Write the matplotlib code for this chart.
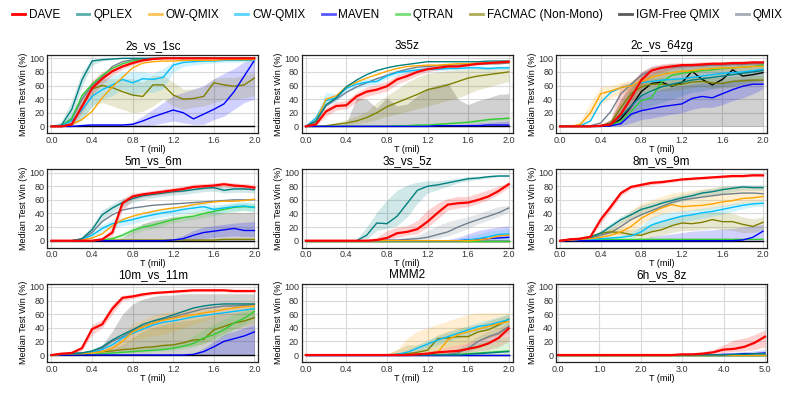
import matplotlib.pyplot as plt
from matplotlib.lines import Line2D

plt.rcParams['font.family'] = ['Liberation Sans', 'DejaVu Sans']

# x positions (million steps)
t2 = [0.0, 0.1, 0.2, 0.3, 0.4, 0.5, 0.6, 0.7, 0.8, 0.9, 1.0,
      1.1, 1.2, 1.3, 1.4, 1.5, 1.6, 1.7, 1.8, 1.9, 2.0]
t5 = [0.0, 0.25, 0.5, 0.75, 1.0, 1.25, 1.5, 1.75, 2.0, 2.25, 2.5,
      2.75, 3.0, 3.25, 3.5, 3.75, 4.0, 4.25, 4.5, 4.75, 5.0]

methods = ['DAVE', 'QPLEX', 'OW-QMIX', 'CW-QMIX', 'MAVEN', 'QTRAN',
           'FACMAC (Non-Mono)', 'IGM-Free QMIX', 'QMIX']
colors = {'DAVE': '#ff0000', 'QPLEX': '#008080', 'OW-QMIX': '#ffa500',
          'CW-QMIX': '#00bfff', 'MAVEN': '#0000ff', 'QTRAN': '#32cd32',
          'FACMAC (Non-Mono)': '#808000', 'IGM-Free QMIX': '#000000',
          'QMIX': '#708090'}
Z = [0] * 21

# ---- 2s_vs_1sc
p1_med = {
    'DAVE': [0, 0, 3, 29, 56, 70, 81, 88, 93, 97, 99, 100, 100, 100, 100, 100, 100, 100, 100, 100, 100],
    'QPLEX': [0, 2, 25, 68, 96, 98, 99, 100, 100, 100, 100, 100, 100, 100, 100, 100, 100, 100, 100, 100, 100],
    'OW-QMIX': [0, 0, 3, 10, 22, 42, 58, 72, 86, 93, 95, 96, 96, 97, 97, 97, 97, 98, 98, 98, 98],
    'CW-QMIX': [0, 1, 8, 24, 44, 54, 61, 69, 64, 70, 69, 72, 90, 94, 95, 96, 96, 97, 97, 97, 97],
    'MAVEN': [0, 0, 0, 1, 2, 2, 2, 2, 3, 8, 14, 19, 24, 20, 11, 18, 25, 33, 51, 74, 97],
    'QTRAN': [0, 1, 12, 45, 62, 75, 85, 92, 96, 98, 99, 100, 100, 100, 100, 100, 100, 100, 100, 100, 100],
    'FACMAC (Non-Mono)': [0, 0, 3, 30, 55, 60, 57, 51, 46, 44, 61, 61, 46, 40, 41, 44, 64, 61, 59, 61, 71],
    'IGM-Free QMIX': Z,
    'QMIX': [0, 1, 10, 40, 60, 72, 88, 95, 98, 99, 100, 100, 100, 100, 100, 100, 100, 100, 100, 100, 100],
}
p1_band = {
    'MAVEN': ([0, 0, 0, 0, 0, 0, 0, 0, 0, 0, 2, 5, 8, 5, 3, 3, 10, 15, 25, 35, 40],
              [0, 0, 2, 4, 4, 4, 4, 4, 6, 15, 25, 35, 45, 50, 55, 60, 70, 78, 85, 95, 98]),
    'FACMAC (Non-Mono)': ([0, 0, 0, 10, 30, 35, 30, 25, 20, 22, 30, 40, 30, 25, 28, 30, 35, 40, 40, 42, 45],
                          [0, 0, 10, 50, 65, 70, 70, 70, 70, 65, 75, 75, 65, 55, 55, 58, 70, 72, 72, 75, 80]),
    'CW-QMIX': ([0, 0, 2, 10, 30, 40, 45, 55, 45, 50, 50, 55, 80, 88, 90, 92, 93, 94, 94, 95, 95],
                [0, 3, 20, 45, 60, 70, 75, 80, 80, 80, 78, 85, 95, 97, 98, 98, 98, 99, 99, 99, 99]),
    'DAVE': ([0, 0, 1, 20, 45, 62, 75, 84, 90, 95, 98, 99, 100, 100, 100, 100, 100, 100, 100, 100, 100],
             [0, 1, 8, 40, 68, 80, 88, 94, 97, 99, 100, 100, 100, 100, 100, 100, 100, 100, 100, 100, 100]),
    'QPLEX': ([0, 0, 15, 58, 90, 96, 98, 99, 100, 100, 100, 100, 100, 100, 100, 100, 100, 100, 100, 100, 100],
              [0, 8, 38, 80, 99, 100, 100, 100, 100, 100, 100, 100, 100, 100, 100, 100, 100, 100, 100, 100, 100]),
}

# ---- 3s5z
p2_med = {
    'DAVE': [0, 3, 22, 30, 31, 44, 51, 54, 59, 69, 74, 80, 84, 86, 88, 88, 90, 92, 93, 94, 95],
    'QPLEX': [0, 8, 32, 42, 58, 68, 76, 82, 86, 89, 91, 93, 95, 95, 95, 95, 95, 95, 96, 96, 96],
    'OW-QMIX': [0, 8, 40, 45, 58, 65, 71, 76, 81, 85, 88, 89, 90, 90, 91, 92, 92, 93, 93, 94, 94],
    'CW-QMIX': [0, 12, 38, 42, 56, 62, 65, 66, 74, 79, 81, 83, 84, 84, 85, 85, 86, 86, 85, 86, 86],
    'MAVEN': [0, 0, 0, 0, 0, 0, 0, 0, 0, 0, 0, 0, 0, 1, 1, 1, 1, 1, 2, 2, 2],
    'QTRAN': [0, 0, 0, 0, 0, 0, 0, 0, 0, 1, 1, 2, 2, 3, 4, 5, 6, 8, 10, 11, 12],
    'FACMAC (Non-Mono)': [0, 0, 1, 3, 5, 8, 13, 20, 29, 35, 41, 47, 54, 57, 61, 66, 71, 74, 76, 78, 80],
    'IGM-Free QMIX': Z,
    'QMIX': [0, 6, 30, 40, 50, 58, 64, 70, 75, 80, 84, 87, 88, 89, 90, 90, 91, 91, 92, 92, 93],
}
p2_band = {
    'IGM-Free QMIX': (Z, [0, 0, 0, 0, 5, 42, 40, 27, 42, 30, 33, 45, 56, 61, 64, 40, 32, 38, 42, 47, 48]),
    'FACMAC (Non-Mono)': ([0, 0, 0, 1, 2, 4, 6, 10, 15, 18, 22, 26, 30, 34, 38, 42, 48, 54, 58, 62, 66],
                          [0, 0, 2, 6, 10, 15, 22, 35, 45, 55, 65, 72, 78, 80, 82, 83, 84, 85, 86, 86, 86]),
    'DAVE': ([0, 1, 15, 24, 26, 36, 44, 48, 52, 62, 68, 75, 80, 83, 85, 86, 88, 90, 91, 92, 93],
             [0, 5, 28, 36, 38, 50, 58, 62, 66, 75, 80, 85, 88, 89, 90, 91, 92, 94, 95, 96, 97]),
    'CW-QMIX': ([0, 6, 30, 36, 50, 56, 60, 62, 70, 75, 78, 80, 82, 82, 83, 83, 84, 84, 83, 84, 84],
                [0, 18, 50, 48, 62, 68, 70, 72, 78, 83, 85, 86, 87, 87, 88, 88, 89, 89, 88, 89, 89]),
    'QTRAN': ([0, 0, 0, 0, 0, 0, 0, 0, 0, 0, 0, 1, 1, 2, 3, 4, 5, 6, 8, 9, 10],
              [0, 0, 0, 0, 0, 0, 0, 0, 1, 2, 2, 3, 4, 5, 6, 7, 9, 10, 12, 13, 14]),
    'MAVEN': (Z, [0, 0, 0, 0, 0, 0, 0, 0, 0, 0, 1, 1, 2, 2, 3, 3, 4, 5, 6, 7, 8]),
}

# ---- 2c_vs_64zg
p3_med = {
    'DAVE': [0, 0, 0, 0, 1, 3, 18, 42, 68, 82, 86, 88, 90, 90, 91, 92, 92, 93, 93, 94, 94],
    'QPLEX': [0, 0, 0, 0, 1, 4, 15, 30, 45, 52, 58, 62, 65, 68, 70, 72, 74, 76, 78, 80, 82],
    'OW-QMIX': [0, 0, 3, 20, 48, 52, 57, 60, 66, 72, 76, 79, 81, 82, 84, 85, 86, 86, 87, 88, 88],
    'CW-QMIX': [0, 0, 1, 8, 35, 50, 57, 61, 64, 66, 68, 69, 70, 72, 74, 76, 78, 79, 80, 82, 84],
    'MAVEN': [0, 0, 0, 0, 0, 1, 4, 18, 23, 26, 29, 31, 33, 41, 44, 42, 48, 54, 59, 62, 62],
    'QTRAN': [0, 0, 0, 0, 0, 2, 8, 22, 38, 42, 65, 75, 78, 80, 82, 83, 85, 86, 87, 88, 90],
    'FACMAC (Non-Mono)': [0, 0, 0, 0, 1, 5, 28, 48, 58, 62, 62, 60, 62, 65, 66, 64, 63, 66, 67, 68, 68],
    'IGM-Free QMIX': [0, 0, 0, 0, 0, 1, 11, 29, 51, 63, 65, 59, 64, 81, 69, 61, 69, 83, 74, 76, 79],
    'QMIX': [0, 0, 0, 1, 5, 22, 48, 62, 75, 82, 86, 87, 88, 89, 89, 90, 90, 91, 91, 92, 92],
}
p3_band = {
    'IGM-Free QMIX': (Z, [0, 0, 0, 0, 2, 10, 40, 65, 80, 88, 90, 92, 92, 93, 93, 93, 94, 94, 94, 95, 95]),
    'QPLEX': ([0, 0, 0, 0, 0, 1, 5, 15, 25, 30, 35, 40, 45, 50, 52, 55, 58, 60, 62, 65, 68],
              [0, 0, 0, 0, 2, 10, 30, 55, 70, 78, 85, 88, 90, 92, 93, 94, 95, 95, 96, 96, 96]),
    'MAVEN': ([0, 0, 0, 0, 0, 0, 1, 5, 10, 12, 15, 18, 20, 25, 28, 28, 32, 38, 42, 48, 55],
              [0, 0, 0, 0, 1, 5, 15, 35, 45, 50, 55, 58, 60, 62, 64, 62, 66, 68, 70, 70, 68]),
    'DAVE': ([0, 0, 0, 0, 0, 1, 5, 25, 55, 75, 80, 84, 86, 87, 88, 89, 89, 90, 90, 91, 91],
             [0, 0, 0, 0, 3, 10, 62, 65, 80, 88, 92, 93, 94, 94, 95, 95, 95, 96, 96, 96, 96]),
    'OW-QMIX': ([0, 0, 0, 8, 32, 42, 48, 52, 58, 65, 70, 74, 77, 78, 80, 81, 82, 82, 83, 84, 84],
                [0, 0, 8, 35, 58, 60, 64, 68, 74, 78, 82, 84, 85, 86, 88, 89, 90, 90, 91, 92, 92]),
    'FACMAC (Non-Mono)': ([0, 0, 0, 0, 0, 2, 18, 38, 48, 52, 52, 52, 54, 57, 58, 56, 56, 58, 60, 62, 62],
                          [0, 0, 0, 0, 2, 10, 40, 58, 66, 70, 72, 70, 72, 74, 74, 72, 72, 74, 74, 75, 75]),
}

# ---- 5m_vs_6m
p4_med = {
    'DAVE': [0, 0, 0, 0, 0, 2, 12, 55, 65, 68, 70, 72, 74, 76, 79, 80, 81, 83, 81, 80, 78],
    'QPLEX': [0, 0, 0, 3, 16, 38, 48, 56, 62, 66, 68, 70, 72, 73, 75, 77, 78, 74, 76, 76, 75],
    'OW-QMIX': [0, 0, 0, 1, 4, 10, 22, 31, 36, 40, 43, 46, 48, 50, 53, 55, 57, 58, 58, 59, 61],
    'CW-QMIX': [0, 0, 0, 2, 8, 18, 25, 28, 31, 35, 38, 41, 43, 46, 48, 50, 46, 48, 50, 51, 49],
    'MAVEN': [0, 0, 0, 0, 0, 0, 0, 0, 0, 0, 0, 0, 1, 3, 8, 12, 14, 16, 18, 15, 15],
    'QTRAN': [0, 0, 0, 0, 0, 1, 3, 8, 15, 20, 23, 27, 31, 34, 36, 40, 43, 46, 49, 50, 49],
    'FACMAC (Non-Mono)': [0, 0, 0, 0, 0, 1, 1, 1, 1, 1, 1, 1, 1, 1, 1, 1, 1, 2, 2, 2, 2],
    'IGM-Free QMIX': Z,
    'QMIX': [0, 0, 0, 2, 12, 28, 38, 45, 48, 50, 52, 53, 54, 55, 56, 57, 58, 59, 60, 60, 60],
}
p4_band = {
    'IGM-Free QMIX': (Z, [0, 0, 0, 0, 0, 0, 0, 5, 15, 25, 30, 32, 35, 36, 37, 40, 42, 41, 42, 41, 42]),
    'MAVEN': ([0, 0, 0, 0, 0, 0, 0, 0, 0, 0, 0, 0, 0, 0, 1, 3, 5, 6, 7, 6, 6],
              [0, 0, 0, 0, 0, 0, 0, 0, 0, 0, 0, 0, 2, 8, 15, 20, 22, 24, 26, 27, 28]),
    'DAVE': ([0, 0, 0, 0, 0, 1, 6, 45, 60, 64, 66, 68, 70, 72, 75, 76, 77, 79, 77, 76, 74],
             [0, 0, 0, 0, 1, 4, 20, 62, 70, 72, 74, 76, 78, 80, 83, 84, 85, 86, 85, 84, 83]),
    'QPLEX': ([0, 0, 0, 1, 10, 30, 42, 50, 56, 60, 63, 65, 67, 68, 70, 72, 73, 70, 71, 71, 70],
              [0, 0, 0, 6, 22, 45, 54, 62, 67, 70, 72, 74, 76, 77, 79, 81, 82, 79, 80, 80, 80]),
    'QTRAN': ([0, 0, 0, 0, 0, 0, 1, 5, 10, 15, 18, 22, 26, 29, 31, 34, 37, 40, 43, 44, 43],
              [0, 0, 0, 0, 1, 3, 6, 12, 20, 25, 28, 32, 36, 39, 42, 46, 49, 52, 55, 56, 55]),
    'CW-QMIX': ([0, 0, 0, 0, 4, 12, 19, 22, 25, 29, 32, 35, 37, 40, 42, 44, 40, 42, 44, 45, 43],
                [0, 0, 0, 4, 12, 24, 31, 34, 37, 41, 44, 47, 49, 52, 54, 56, 52, 54, 56, 57, 55]),
}

# ---- 3s_vs_5z
p5_med = {
    'DAVE': [0, 0, 0, 0, 0, 0, 0, 1, 4, 11, 13, 17, 28, 41, 53, 55, 56, 60, 65, 73, 83],
    'QPLEX': [0, 0, 0, 0, 0, 0, 8, 26, 25, 36, 55, 74, 80, 82, 85, 88, 91, 92, 94, 95, 95],
    'OW-QMIX': [0, 0, 0, 0, 0, 0, 0, 0, 0, 0, 0, 0, 0, 0, 0, 0, 0, 1, 3, 7, 8],
    'CW-QMIX': [0, 0, 0, 0, 0, 0, 0, 0, 0, 0, 0, 0, 0, 0, 0, 0, 1, 3, 6, 9, 10],
    'MAVEN': [0, 0, 0, 0, 0, 0, 0, 0, 0, 0, 0, 0, 0, 0, 0, 0, 1, 2, 3, 4, 5],
    'QTRAN': Z,
    'FACMAC (Non-Mono)': Z,
    'IGM-Free QMIX': Z,
    'QMIX': [0, 0, 0, 0, 0, 0, 0, 0, 1, 1, 2, 3, 5, 9, 13, 20, 26, 31, 36, 41, 48],
}
p5_band = {
    'QPLEX': ([0, 0, 0, 0, 0, 0, 2, 15, 18, 22, 35, 55, 70, 75, 80, 85, 88, 90, 92, 94, 94],
              [0, 0, 0, 0, 0, 2, 20, 42, 60, 74, 82, 86, 88, 88, 90, 92, 94, 95, 96, 97, 97]),
    'DAVE': ([0, 0, 0, 0, 0, 0, 0, 0, 1, 5, 8, 10, 20, 32, 45, 48, 50, 55, 60, 68, 78],
             [0, 0, 0, 0, 0, 0, 1, 5, 15, 20, 22, 30, 45, 55, 62, 65, 65, 70, 75, 80, 86]),
    'QMIX': ([0, 0, 0, 0, 0, 0, 0, 0, 0, 0, 0, 1, 2, 4, 7, 12, 18, 25, 30, 35, 42],
             [0, 0, 0, 0, 0, 0, 0, 0, 2, 3, 5, 8, 15, 22, 28, 32, 35, 40, 45, 50, 52]),
    'MAVEN': (Z, [0, 0, 0, 0, 0, 0, 0, 0, 0, 0, 0, 0, 0, 0, 2, 5, 10, 15, 18, 20, 22]),
    'CW-QMIX': (Z, [0, 0, 0, 0, 0, 0, 0, 0, 0, 0, 0, 0, 0, 0, 1, 3, 6, 10, 14, 16, 18]),
}

# ---- 8m_vs_9m
p6_med = {
    'DAVE': [0, 2, 3, 6, 31, 50, 70, 79, 82, 85, 86, 88, 90, 91, 92, 93, 94, 95, 95, 96, 96],
    'QPLEX': [0, 2, 3, 5, 11, 21, 31, 38, 46, 50, 55, 59, 63, 66, 70, 72, 75, 77, 79, 78, 78],
    'OW-QMIX': [0, 1, 2, 3, 5, 8, 13, 21, 33, 41, 48, 53, 50, 51, 52, 54, 57, 59, 62, 63, 65],
    'CW-QMIX': [0, 1, 2, 2, 3, 4, 5, 7, 13, 23, 28, 32, 36, 38, 41, 43, 46, 49, 52, 54, 55],
    'MAVEN': [0, 0, 0, 0, 0, 0, 0, 0, 0, 0, 0, 0, 0, 0, 0, 0, 0, 0, 1, 5, 14],
    'QTRAN': [0, 1, 2, 2, 2, 2, 2, 2, 2, 2, 2, 2, 2, 2, 2, 2, 2, 2, 2, 2, 2],
    'FACMAC (Non-Mono)': [0, 2, 3, 6, 11, 13, 12, 9, 8, 13, 16, 22, 26, 25, 27, 31, 28, 28, 24, 21, 27],
    'IGM-Free QMIX': Z,
    'QMIX': [0, 2, 3, 4, 8, 12, 21, 31, 38, 44, 50, 56, 60, 62, 64, 66, 68, 69, 70, 70, 69],
}
p6_band = {
    'MAVEN': (Z, [0, 0, 0, 0, 0, 0, 0, 1, 3, 6, 8, 10, 12, 14, 15, 16, 17, 18, 20, 22, 24]),
    'FACMAC (Non-Mono)': ([0, 1, 2, 4, 8, 10, 9, 5, 3, 5, 8, 12, 15, 15, 16, 18, 16, 15, 12, 12, 15],
                          [0, 3, 5, 8, 14, 18, 18, 16, 20, 25, 30, 35, 38, 38, 40, 42, 42, 40, 35, 32, 35]),
    'OW-QMIX': ([0, 0, 1, 2, 3, 5, 8, 14, 24, 32, 38, 43, 42, 44, 45, 47, 50, 52, 55, 56, 58],
                [0, 2, 3, 5, 10, 18, 30, 45, 55, 60, 65, 70, 72, 74, 76, 78, 80, 80, 80, 80, 80]),
    'CW-QMIX': ([0, 0, 1, 1, 2, 3, 4, 5, 9, 15, 20, 24, 28, 30, 33, 36, 39, 43, 47, 50, 51],
                [0, 2, 3, 3, 4, 6, 8, 12, 22, 35, 40, 42, 44, 46, 48, 50, 52, 55, 57, 58, 59]),
    'QPLEX': ([0, 1, 2, 3, 8, 16, 25, 32, 40, 45, 50, 54, 58, 61, 65, 67, 70, 72, 74, 74, 74],
              [0, 3, 4, 7, 15, 26, 36, 44, 52, 56, 60, 64, 68, 71, 75, 77, 80, 81, 82, 82, 82]),
    'DAVE': ([0, 1, 2, 4, 25, 45, 66, 76, 79, 82, 84, 86, 88, 89, 90, 91, 92, 93, 93, 94, 94],
             [0, 3, 4, 8, 36, 55, 74, 82, 85, 88, 89, 90, 92, 93, 94, 95, 96, 97, 97, 98, 98]),
}

# ---- 10m_vs_11m
p7_med = {
    'DAVE': [0, 2, 3, 10, 38, 45, 68, 84, 86, 89, 91, 92, 93, 94, 95, 95, 95, 95, 94, 94, 94],
    'QPLEX': [0, 1, 2, 3, 6, 12, 22, 30, 37, 45, 50, 54, 59, 64, 69, 72, 74, 75, 75, 75, 75],
    'OW-QMIX': [0, 1, 2, 2, 3, 5, 10, 20, 34, 41, 47, 51, 54, 57, 59, 62, 64, 67, 69, 71, 72],
    'CW-QMIX': [0, 1, 2, 3, 4, 8, 15, 25, 32, 38, 44, 48, 50, 53, 56, 58, 60, 62, 64, 66, 68],
    'MAVEN': [0, 0, 0, 0, 0, 0, 0, 0, 0, 0, 0, 0, 0, 0, 1, 5, 12, 20, 24, 28, 34],
    'QTRAN': [0, 1, 1, 1, 1, 2, 3, 4, 5, 6, 7, 8, 10, 13, 17, 25, 30, 37, 47, 54, 64],
    'FACMAC (Non-Mono)': [0, 1, 2, 3, 4, 5, 6, 8, 9, 11, 12, 14, 15, 18, 22, 23, 37, 42, 47, 50, 55],
    'IGM-Free QMIX': Z,
    'QMIX': [0, 1, 2, 3, 5, 10, 20, 27, 35, 42, 47, 52, 56, 60, 64, 68, 70, 72, 72, 73, 74],
}
p7_band = {
    'IGM-Free QMIX': (Z, [0, 0, 1, 2, 5, 15, 35, 60, 75, 82, 86, 88, 88, 90, 90, 90, 90, 90, 90, 90, 90]),
    'MAVEN': (Z, [0, 0, 0, 0, 0, 0, 0, 0, 0, 0, 0, 0, 0, 0, 2, 10, 20, 30, 35, 40, 45]),
    'OW-QMIX': ([0, 0, 1, 1, 2, 3, 5, 12, 22, 25, 28, 30, 35, 40, 45, 50, 55, 60, 62, 64, 66],
                [0, 2, 3, 3, 5, 8, 16, 30, 45, 52, 58, 62, 64, 66, 68, 70, 72, 74, 76, 77, 78]),
    'DAVE': ([0, 1, 2, 6, 30, 40, 60, 80, 83, 86, 89, 90, 91, 92, 93, 93, 93, 93, 92, 92, 92],
             [0, 3, 4, 14, 45, 52, 75, 88, 89, 92, 93, 94, 95, 96, 97, 97, 97, 97, 96, 96, 96]),
    'FACMAC (Non-Mono)': ([0, 0, 1, 2, 3, 4, 4, 5, 6, 7, 8, 9, 10, 12, 14, 16, 25, 32, 38, 42, 46],
                          [0, 2, 3, 4, 6, 7, 9, 15, 25, 35, 40, 45, 48, 50, 52, 55, 58, 60, 62, 64, 66]),
    'QTRAN': ([0, 0, 0, 0, 0, 1, 2, 3, 3, 4, 5, 6, 7, 9, 12, 18, 22, 28, 38, 45, 55],
              [0, 2, 2, 2, 2, 3, 5, 6, 8, 10, 12, 14, 16, 20, 28, 38, 45, 52, 60, 65, 72]),
}

# ---- MMM2
p8_med = {
    'DAVE': [0, 0, 0, 0, 0, 0, 0, 0, 0, 0, 0, 1, 2, 4, 5, 6, 9, 12, 17, 25, 39],
    'QPLEX': [0, 0, 0, 0, 0, 0, 0, 0, 0, 0, 0, 0, 0, 0, 0, 0, 1, 2, 3, 4, 5],
    'OW-QMIX': [0, 0, 0, 0, 0, 0, 0, 0, 0, 0, 0, 1, 2, 4, 22, 30, 34, 38, 42, 46, 49],
    'CW-QMIX': [0, 0, 0, 0, 0, 0, 0, 0, 0, 1, 4, 10, 16, 22, 27, 32, 37, 42, 44, 48, 52],
    'MAVEN': Z,
    'QTRAN': [0, 0, 0, 0, 0, 0, 0, 0, 0, 0, 0, 0, 0, 0, 0, 1, 2, 3, 4, 5, 6],
    'FACMAC (Non-Mono)': [0, 0, 0, 0, 0, 0, 0, 0, 0, 1, 2, 4, 7, 24, 25, 27, 27, 34, 37, 44, 53],
    'IGM-Free QMIX': Z,
    'QMIX': [0, 0, 0, 0, 0, 0, 0, 0, 0, 0, 0, 0, 0, 0, 1, 3, 10, 20, 27, 32, 42],
}
p8_band = {
    'OW-QMIX': ([0, 0, 0, 0, 0, 0, 0, 0, 0, 0, 0, 0, 0, 0, 5, 10, 15, 20, 25, 30, 35],
                [0, 0, 0, 0, 0, 0, 0, 0, 1, 8, 25, 35, 40, 45, 50, 55, 60, 62, 62, 62, 62]),
    'FACMAC (Non-Mono)': ([0, 0, 0, 0, 0, 0, 0, 0, 0, 0, 0, 0, 2, 8, 12, 15, 18, 20, 25, 30, 40],
                          [0, 0, 0, 0, 0, 0, 0, 0, 2, 8, 15, 15, 20, 30, 35, 40, 42, 45, 50, 55, 60]),
    'DAVE': ([0, 0, 0, 0, 0, 0, 0, 0, 0, 0, 0, 0, 0, 0, 0, 2, 4, 6, 8, 12, 20],
             [0, 0, 0, 0, 0, 0, 0, 0, 0, 0, 0, 2, 5, 8, 12, 15, 18, 22, 28, 35, 45]),
    'QTRAN': (Z, [0, 0, 0, 0, 0, 0, 0, 0, 0, 0, 0, 1, 2, 4, 6, 10, 14, 18, 22, 25, 28]),
    'CW-QMIX': ([0, 0, 0, 0, 0, 0, 0, 0, 0, 0, 1, 5, 10, 15, 20, 25, 30, 35, 38, 42, 46],
                [0, 0, 0, 0, 0, 0, 0, 0, 1, 3, 8, 15, 22, 28, 33, 38, 43, 48, 52, 56, 60]),
    'QMIX': ([0, 0, 0, 0, 0, 0, 0, 0, 0, 0, 0, 0, 0, 0, 0, 1, 5, 12, 18, 24, 32],
             [0, 0, 0, 0, 0, 0, 0, 0, 0, 0, 0, 0, 1, 3, 5, 10, 18, 28, 35, 40, 48]),
}

# ---- 6h_vs_8z (x up to 5 mil)
p9_med = {
    'DAVE': [0, 0, 0, 0, 0, 0, 0, 0, 0, 0, 0, 0, 1, 1, 2, 4, 8, 9, 12, 18, 27],
    'QPLEX': [0, 0, 0, 0, 0, 0, 0, 0, 0, 0, 0, 0, 0, 0, 0, 0, 0, 1, 1, 2, 2],
    'OW-QMIX': Z,
    'CW-QMIX': Z,
    'MAVEN': [0, 0, 0, 0, 0, 0, 0, 0, 0, 0, 0, 0, 0, 0, 0, 0, 1, 1, 2, 2, 3],
    'QTRAN': Z,
    'FACMAC (Non-Mono)': Z,
    'IGM-Free QMIX': Z,
    'QMIX': Z,
}
p9_band = {
    'DAVE': ([0, 0, 0, 0, 0, 0, 0, 0, 0, 0, 0, 0, 0, 0, 0, 1, 4, 5, 6, 8, 12],
             [0, 0, 0, 0, 0, 0, 0, 0, 0, 0, 1, 1, 2, 3, 5, 8, 15, 22, 25, 30, 37]),
    'MAVEN': (Z, [0, 0, 0, 0, 0, 0, 0, 0, 0, 0, 0, 0, 0, 0, 0, 1, 3, 4, 5, 6, 8]),
}

titles = ['2s_vs_1sc', '3s5z', '2c_vs_64zg', '5m_vs_6m', '3s_vs_5z',
          '8m_vs_9m', '10m_vs_11m', 'MMM2', '6h_vs_8z']
panels = [p1_med, p2_med, p3_med, p4_med, p5_med, p6_med, p7_med, p8_med, p9_med]
bands = [p1_band, p2_band, p3_band, p4_band, p5_band, p6_band, p7_band, p8_band, p9_band]

draw_order = ['IGM-Free QMIX', 'QMIX', 'FACMAC (Non-Mono)', 'QTRAN', 'MAVEN',
              'CW-QMIX', 'OW-QMIX', 'QPLEX', 'DAVE']

fig, axes = plt.subplots(3, 3, figsize=(7.9, 3.95), dpi=100)
fig.subplots_adjust(left=0.06, right=0.971, top=0.861, bottom=0.084,
                    hspace=0.46, wspace=0.205)

for i, ax in enumerate(axes.flat):
    x = t5 if i == 8 else t2
    for name, (lo, hi) in bands[i].items():
        ax.fill_between(x, lo, hi, color=colors[name], alpha=0.18, lw=0)
    for name in draw_order:
        lw = 1.6 if name == 'DAVE' else 1.0
        ax.plot(x, panels[i][name], color=colors[name], lw=lw)
    ax.set_title(titles[i], fontsize=8.5, pad=4)
    ax.set_ylim(-10, 105)
    ax.set_yticks([0, 20, 40, 60, 80, 100])
    if i == 8:
        ax.set_xlim(-0.05, 5.05)
        ax.set_xticks([0, 1, 2, 3, 4, 5])
        ax.set_xticklabels(['0.0', '1.0', '2.0', '3.0', '4.0', '5.0'])
    else:
        ax.set_xlim(-0.04, 2.04)
        ax.set_xticks([0, 0.4, 0.8, 1.2, 1.6, 2.0])
        ax.set_xticklabels(['0.0', '0.4', '0.8', '1.2', '1.6', '2.0'])
    ax.grid(True, color='#d9d9d9', lw=0.8)
    ax.set_axisbelow(True)
    ax.tick_params(length=0, pad=2, labelsize=6.5, colors='#333333')
    for s in ax.spines.values():
        s.set_color('#222222')
        s.set_linewidth(0.9)
    ax.set_ylabel('Median Test Win (%)', fontsize=6.5, labelpad=1)
    ax.set_xlabel('T (mil)', fontsize=6.5, labelpad=0)

handles = [Line2D([], [], color=colors[m], lw=2, alpha=0.65 if m != 'DAVE' else 1.0)
           for m in methods]
fig.legend(handles, methods, loc='center', bbox_to_anchor=(0.503, 0.962), ncol=9,
           frameon=False, fontsize=8.5, handlelength=1.1, handletextpad=0.3,
           columnspacing=1.4)

fig.savefig('out.png', dpi=100)
